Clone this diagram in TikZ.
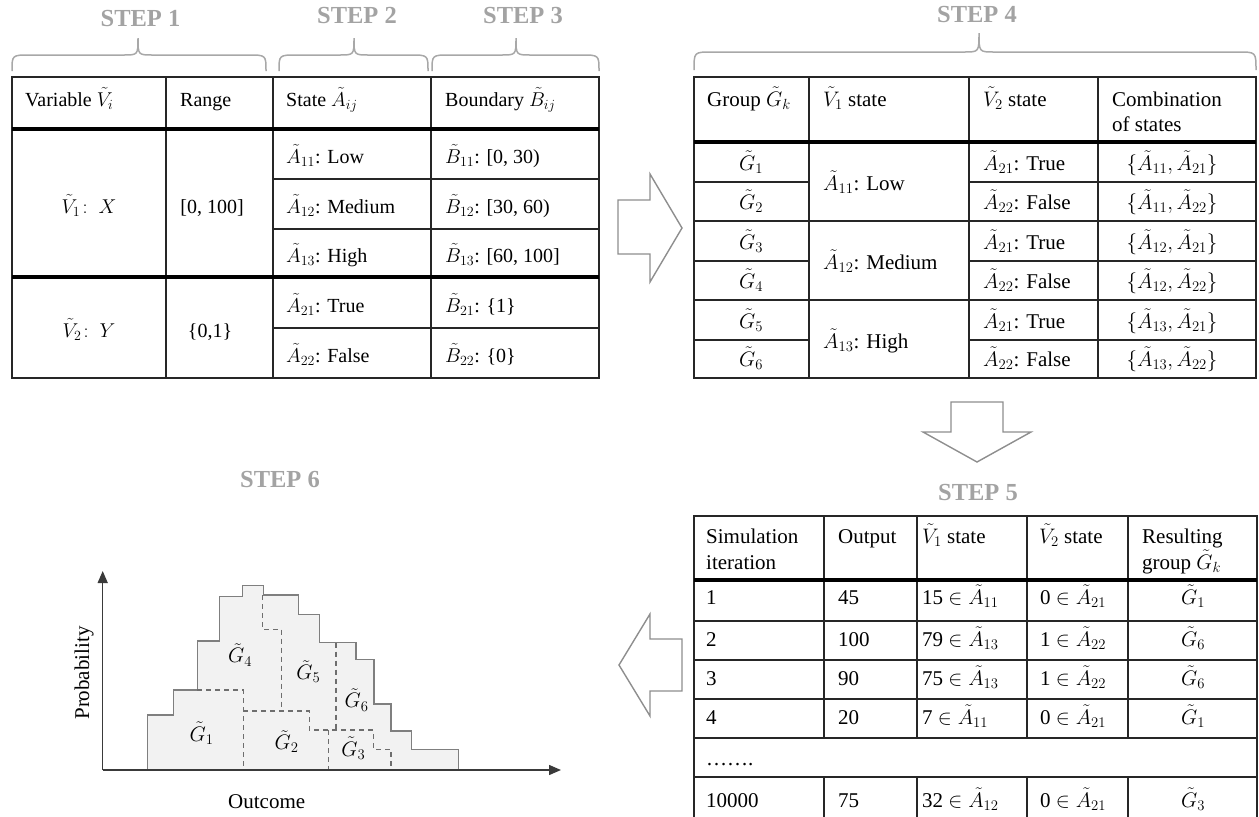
\RequirePackage{fix-cm}
\documentclass[tikz,border=0pt]{standalone}
\usepackage{fontspec}
\setmainfont{Liberation Serif}
\usetikzlibrary{arrows.meta}

\definecolor{steplabel}{HTML}{A3A3A3}
\definecolor{bracec}{HTML}{A8A8A8}
\definecolor{gridc}{HTML}{262626}
\definecolor{arrowc}{HTML}{8E8E8E}
\definecolor{histfill}{HTML}{F2F2F2}
\definecolor{histline}{HTML}{7F7F7F}
\definecolor{dashc}{HTML}{6E6E6E}
\definecolor{axisc}{HTML}{3A3A3A}

% curly brace over a block of columns: x0 x1 xtip yend ymid ytip
\newcommand\stepbrace[6]{%
  \draw[bracepath] (#1,#4) .. controls (#1,#5) .. (#1+18,#5) -- (#3-15,#5)
    .. controls (#3,#5) .. (#3,#6) .. controls (#3,#5) .. (#3+15,#5)
    -- (#2-18,#5) .. controls (#2,#5) .. (#2,#4);}

\begin{document}
\begin{tikzpicture}[x=1pt,y=-1pt,
  cellline/.style={line width=1.7pt,draw=gridc},
  heavyrule/.style={line width=4.5pt,draw=black},
  bracepath/.style={line width=1.5pt,draw=bracec},
  steptitle/.style={font=\fontsize{24.5}{28}\selectfont\bfseries,text=steplabel,inner sep=0pt,anchor=center},
  ta/.style={font=\fontsize{20}{25}\selectfont,inner sep=0pt,anchor=base west},
  tac/.style={ta,anchor=base},
  tb/.style={font=\fontsize{21}{26}\selectfont,inner sep=0pt,anchor=base west},
  tbc/.style={tb,anchor=base},
  blockarrow/.style={draw=arrowc,line width=1.4pt,fill=white,line join=miter},
  hist/.style={fill=histfill,draw=histline,line width=1.4pt},
  groupsplit/.style={draw=dashc,line width=1.2pt,dash pattern=on 5pt off 4pt},
  chartaxis/.style={draw=axisc,line width=1.4pt,-{Triangle[length=12pt,width=10pt]}},
  grp/.style={font=\fontsize{21}{26}\selectfont,inner sep=0pt},
  axislabel/.style={font=\fontsize{21}{26}\selectfont,inner sep=0pt}
]
\begin{scope}
\clip (0,0) rectangle (1259,817);

% ---------------- step titles and braces ----------------
\node[steptitle] (s1) at (140.5,18.5) {STEP 1};
\node[steptitle] (s2) at (357,16) {STEP 2};
\node[steptitle] (s3) at (523,16) {STEP 3};
\node[steptitle] (s4) at (977,14.5) {STEP 4};
\node[steptitle] (s5) at (978,493) {STEP 5};
\node[steptitle] (s6) at (280,480) {STEP 6};

\stepbrace{12}{266}{138}{71}{55}{38}
\stepbrace{279}{428}{354}{71}{55}{38}
\stepbrace{432}{599}{516}{71}{55}{38}
\stepbrace{694}{1256}{979}{70}{52}{33}

% ---------------- table of variables, states and boundaries ----------------
\draw[cellline] (12,77) rectangle (599,378);
\foreach \cx in {166,273,431} \draw[cellline] (\cx,77) -- (\cx,378);
\foreach \ry in {179,229,328} \draw[cellline] (273,\ry) -- (599,\ry);
\draw[heavyrule] (12,129) -- (599,129);
\draw[heavyrule] (12,277) -- (599,277);

\node[ta] (hVar) at (25,106) {Variable $\tilde{V}_i$};
\node[ta] (hRange) at (180,106) {Range};
\node[ta] (hState) at (286,106) {State $\tilde{A}_{ij}$};
\node[ta] (hBound) at (445,106) {Boundary $\tilde{B}_{ij}$};

\node[tac] (v1) at (89,213) {$\tilde{V}_1\!:\;X$};
\node[tac] (r1) at (212,213) {[0, 100]};
\node[tac] (v2) at (89,337) {$\tilde{V}_2\!:\;Y$};
\node[tac] (r2) at (210,337) {\{0,1\}};

\node[ta] (a11) at (286,163) {$\tilde{A}_{11}$: Low};
\node[ta] (a12) at (286,213) {$\tilde{A}_{12}$: Medium};
\node[ta] (a13) at (286,262) {$\tilde{A}_{13}$: High};
\node[ta] (a21) at (286,312) {$\tilde{A}_{21}$: True};
\node[ta] (a22) at (286,362) {$\tilde{A}_{22}$: False};

\node[ta] (b11) at (445,163) {$\tilde{B}_{11}$: [0, 30)};
\node[ta] (b12) at (445,213) {$\tilde{B}_{12}$: [30, 60)};
\node[ta] (b13) at (445,262) {$\tilde{B}_{13}$: [60, 100]};
\node[ta] (b21) at (445,312) {$\tilde{B}_{21}$: \{1\}};
\node[ta] (b22) at (445,362) {$\tilde{B}_{22}$: \{0\}};

% ---------------- table of groups ----------------
\draw[cellline] (694,77) rectangle (1256,378);
\foreach \cx in {809,969,1098} \draw[cellline] (\cx,77) -- (\cx,378);
\foreach \ry in {221,300} \draw[cellline] (694,\ry) -- (1256,\ry);
\foreach \ry in {182,261,340} {
  \draw[cellline] (694,\ry) -- (809,\ry);
  \draw[cellline] (969,\ry) -- (1256,\ry);
}
\draw[heavyrule] (694,142) -- (1256,142);

\node[tb] (hGroup) at (707,106) {Group $\tilde{G}_k$};
\node[tb] (hV1) at (823,106) {$\tilde{V}_1$ state};
\node[tb] (hV2) at (983,106) {$\tilde{V}_2$ state};
\node[tb] (hComb) at (1112,106) {Combination};
\node[tb] (hComb2) at (1112,131) {of states};

\node[tbc] (G1) at (751,170) {$\tilde{G}_1$};
\node[tbc] (G2) at (751,209) {$\tilde{G}_2$};
\node[tbc] (G3) at (751,249) {$\tilde{G}_3$};
\node[tbc] (G4) at (751,288) {$\tilde{G}_4$};
\node[tbc] (G5) at (751,328) {$\tilde{G}_5$};
\node[tbc] (G6) at (751,366) {$\tilde{G}_6$};

\node[tb] (gLow) at (823,190) {$\tilde{A}_{11}$: Low};
\node[tb] (gMed) at (823,269) {$\tilde{A}_{12}$: Medium};
\node[tb] (gHigh) at (823,348) {$\tilde{A}_{13}$: High};

\node[tb] (gT1) at (983,170) {$\tilde{A}_{21}$: True};
\node[tb] (gF1) at (983,209) {$\tilde{A}_{22}$: False};
\node[tb] (gT2) at (983,249) {$\tilde{A}_{21}$: True};
\node[tb] (gF2) at (983,288) {$\tilde{A}_{22}$: False};
\node[tb] (gT3) at (983,328) {$\tilde{A}_{21}$: True};
\node[tb] (gF3) at (983,366) {$\tilde{A}_{22}$: False};

\node[tbc] (c1) at (1172,170) {$\{\tilde{A}_{11}, \tilde{A}_{21}\}$};
\node[tbc] (c2) at (1172,209) {$\{\tilde{A}_{11}, \tilde{A}_{22}\}$};
\node[tbc] (c3) at (1172,249) {$\{\tilde{A}_{12}, \tilde{A}_{21}\}$};
\node[tbc] (c4) at (1172,288) {$\{\tilde{A}_{12}, \tilde{A}_{22}\}$};
\node[tbc] (c5) at (1172,328) {$\{\tilde{A}_{13}, \tilde{A}_{21}\}$};
\node[tbc] (c6) at (1172,366) {$\{\tilde{A}_{13}, \tilde{A}_{22}\}$};

% ---------------- simulation table ----------------
\draw[cellline] (694,821) -- (694,516) -- (1257,516) -- (1257,821);
\foreach \cx in {824,917,1027,1128} {
  \draw[cellline] (\cx,516) -- (\cx,738);
  \draw[cellline] (\cx,777) -- (\cx,821);
}
\foreach \ry in {621,660,699,738,777,821} \draw[cellline] (694,\ry) -- (1257,\ry);
\draw[heavyrule] (694,580) -- (1257,580);

\node[tb] (hSim) at (706,543) {Simulation};
\node[tb] (hSim2) at (706,569) {iteration};
\node[tb] (hOut) at (838,543) {Output};
\node[tb] (hS1) at (922,543) {$\tilde{V}_1$ state};
\node[tb] (hS2) at (1039,543) {$\tilde{V}_2$ state};
\node[tb] (hRes) at (1142,543) {Resulting};
\node[tb] (hRes2) at (1142,569) {group $\tilde{G}_k$};

\node[tb] (i1) at (706,604) {1};
\node[tb] (o1) at (838,604) {45};
\node[tb] (x1) at (922,604) {15 $\in \tilde{A}_{11}$};
\node[tb] (y1) at (1040,604) {0 $\in \tilde{A}_{21}$};
\node[tbc] (z1) at (1193,604) {$\tilde{G}_1$};

\node[tb] (i2) at (706,646) {2};
\node[tb] (o2) at (838,646) {100};
\node[tb] (x2) at (922,646) {79 $\in \tilde{A}_{13}$};
\node[tb] (y2) at (1040,646) {1 $\in \tilde{A}_{22}$};
\node[tbc] (z2) at (1193,646) {$\tilde{G}_6$};

\node[tb] (i3) at (706,685) {3};
\node[tb] (o3) at (838,685) {90};
\node[tb] (x3) at (922,685) {75 $\in \tilde{A}_{13}$};
\node[tb] (y3) at (1040,685) {1 $\in \tilde{A}_{22}$};
\node[tbc] (z3) at (1193,685) {$\tilde{G}_6$};

\node[tb] (i4) at (706,724) {4};
\node[tb] (o4) at (838,724) {20};
\node[tb] (x4) at (922,724) {7 $\in \tilde{A}_{11}$};
\node[tb] (y4) at (1040,724) {0 $\in \tilde{A}_{21}$};
\node[tbc] (z4) at (1193,724) {$\tilde{G}_1$};

\node[tb] (dots) at (706,765) {…….};

\node[tb] (i5) at (706,807) {10000};
\node[tb] (o5) at (838,807) {75};
\node[tb] (x5) at (922,807) {32 $\in \tilde{A}_{12}$};
\node[tb] (y5) at (1040,807) {0 $\in \tilde{A}_{21}$};
\node[tbc] (z5) at (1193,807) {$\tilde{G}_3$};

% ---------------- block arrows between the steps ----------------
\draw[blockarrow] (618,200) -- (650,200) -- (650,174) -- (682,228) -- (650,282)
  -- (650,254) -- (618,254) -- cycle;
\draw[blockarrow] (951,402) -- (1003,402) -- (1003,432) -- (1031,432) -- (977,462)
  -- (923,432) -- (951,432) -- cycle;
\draw[blockarrow] (682,639) -- (650,639) -- (650,614) -- (619,665) -- (650,716)
  -- (650,691) -- (682,691) -- cycle;

% ---------------- outcome distribution split into groups ----------------
\draw[hist] (147.7,770) -- (147.7,715) -- (173.3,715) -- (173.3,690) -- (197.3,690)
  -- (197.3,641) -- (219.3,641) -- (219.3,596.7) -- (242.3,596.7) -- (242.3,585.7)
  -- (263.3,585.7) -- (263.3,595) -- (298.7,595) -- (298.7,614.3) -- (319.3,614.3)
  -- (319.3,642.7) -- (356,642.7) -- (356,659.3) -- (374,659.3) -- (374,704)
  -- (391,704) -- (391,731) -- (411.7,731) -- (411.7,749.3) -- (458.3,749.3)
  -- (458.3,770) -- cycle;

\draw[groupsplit] (197.3,690) -- (243.3,690) -- (243.3,770);
\draw[groupsplit] (243.3,711) -- (309.3,711) -- (309.3,730) -- (373.3,730)
  -- (373.3,749.3) -- (391,749.3) -- (391,770);
\draw[groupsplit] (262.3,595) -- (262.3,629.3) -- (281.7,629.3) -- (281.7,711);
\draw[groupsplit] (336,642.7) -- (336,730);
\draw[groupsplit] (328.3,730) -- (328.3,770);

\node[grp] (hG1) at (201.7,733.3) {$\tilde{G}_1$};
\node[grp] (hG2) at (286.7,741.7) {$\tilde{G}_2$};
\node[grp] (hG3) at (353.3,748.3) {$\tilde{G}_3$};
\node[grp] (hG4) at (240,655) {$\tilde{G}_4$};
\node[grp] (hG5) at (308.3,671.7) {$\tilde{G}_5$};
\node[grp] (hG6) at (356.7,700) {$\tilde{G}_6$};

\coordinate (O) at (102.7,770);
\coordinate (ytip) at (102.7,571);
\coordinate (xtip) at (561,770);
\draw[chartaxis] (O) -- (ytip);
\draw[chartaxis] (O) -- (xtip);

\node[axislabel,rotate=90] (prob) at (84,673) {Probability};
\node[axislabel] (outc) at (266.7,801.7) {Outcome};
\end{scope}
\pgfresetboundingbox
\useasboundingbox (0,0) rectangle (1259,817);
\end{tikzpicture}
\end{document}
